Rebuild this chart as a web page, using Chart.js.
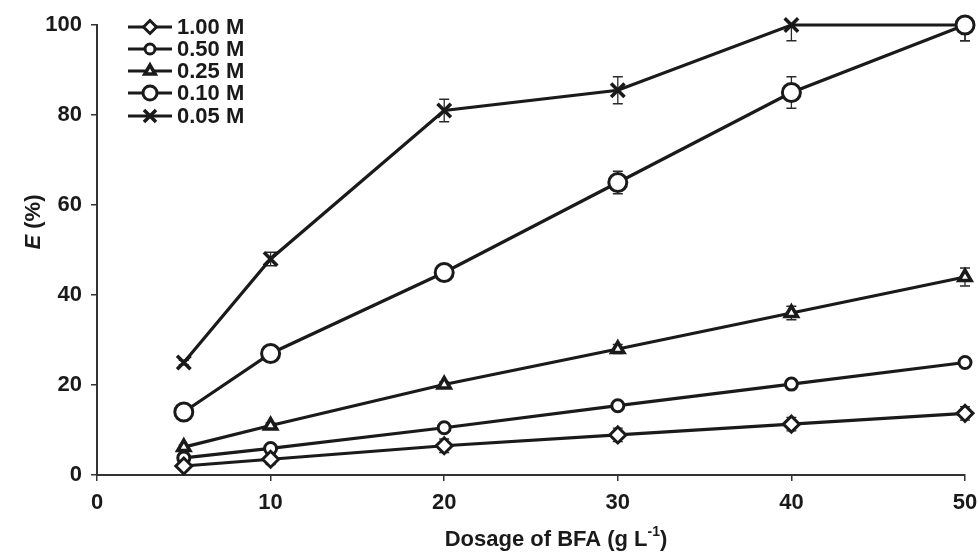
<!DOCTYPE html>
<html>
<head>
<meta charset="utf-8">
<script src="https://cdn.jsdelivr.net/npm/chart.js@4.4.1/dist/chart.umd.min.js"></script>
<style>
  html, body { margin: 0; padding: 0; background: #fff; }
  #wrap { width: 978px; height: 557px; position: relative; }
</style>
</head>
<body>
<div id="wrap"><canvas id="c" width="978" height="557"></canvas></div>
<script>
// Dosage of BFA (g/L)
const dosage = [5, 10, 20, 30, 40, 50];

// Extraction efficiency E (%) for each acid concentration
const labels = ['1.00 M', '0.50 M', '0.25 M', '0.10 M', '0.05 M'];
const e100 = [2.0, 3.5, 6.5, 8.9, 11.3, 13.7];
const e050 = [3.8, 5.9, 10.5, 15.4, 20.2, 25.0];
const e025 = [6.2, 11.0, 20.1, 28.0, 36.0, 44.0];
const e010 = [14.0, 27.0, 45.0, 65.0, 85.0, 100.0];
const e005 = [25.0, 48.0, 81.0, 85.5, 100.0, 100.0];

// Standard deviations (error bars)
const sd100 = [0.6, 1.2, 1.5, 1.5, 1.5, 1.5];
const sd050 = [0.5, 0.6, 0.6, 0.6, 0.6, 0.8];
const sd025 = [0.5, 0.6, 0.6, 1.0, 1.5, 2.0];
const sd010 = [0.8, 1.0, 1.0, 2.5, 3.5, 3.5];
const sd005 = [0.5, 1.5, 2.5, 3.0, 3.5, 3.5];

// Axis tick values
const xTicks = [0, 10, 20, 30, 40, 50];
const yTicks = [0, 20, 40, 60, 80, 100];

const INK = '#1a1a1a';
const FONT = '"Liberation Sans", Arial, sans-serif';
const FS = 22;

function pts(vals) { return dosage.map((x, i) => ({ x: x, y: vals[i] })); }

const seriesVals = [e100, e050, e025, e010, e005];
const seriesSd = [sd100, sd050, sd025, sd010, sd005];
const markerStyle = [
  { pointStyle: 'rectRot', radius: 8, border: 3, legendRadius: 6.5 },
  { pointStyle: 'circle', radius: 6, border: 3, legendRadius: 5 },
  { pointStyle: 'triangle', radius: 7, border: 3.5, legendRadius: 6 },
  { pointStyle: 'circle', radius: 9, border: 3, legendRadius: 7 },
  { pointStyle: 'crossRot', radius: 9.5, border: 3.5, legendRadius: 8.5 }
];

const datasets = labels.map((lab, i) => ({
  label: lab,
  data: pts(seriesVals[i]),
  sd: seriesSd[i],
  borderColor: INK,
  backgroundColor: '#ffffff',
  borderWidth: 3.2,
  pointStyle: markerStyle[i].pointStyle,
  pointRadius: markerStyle[i].radius,
  pointBorderWidth: markerStyle[i].border,
  pointBorderColor: INK,
  pointBackgroundColor: '#ffffff',
  legendRadius: markerStyle[i].legendRadius,
  legendBorder: markerStyle[i].border,
  clip: false,
  tension: 0,
  fill: false
}));

// Vertical error bars, drawn beneath the markers
const errorBars = {
  id: 'errorBars',
  beforeDatasetsDraw(chart) {
    const { ctx, chartArea, scales } = chart;
    ctx.save();
    ctx.beginPath();
    ctx.rect(chartArea.left, chartArea.top - 1, chartArea.right - chartArea.left + 10, chartArea.bottom - chartArea.top + 2);
    ctx.clip();
    ctx.strokeStyle = '#2a2a2a';
    ctx.lineWidth = 1.3;
    chart.data.datasets.forEach(ds => {
      ds.data.forEach((p, i) => {
        const x = scales.x.getPixelForValue(p.x);
        const yHi = scales.y.getPixelForValue(p.y + ds.sd[i]);
        const yLo = scales.y.getPixelForValue(p.y - ds.sd[i]);
        ctx.beginPath();
        ctx.moveTo(x, yHi); ctx.lineTo(x, yLo);
        ctx.moveTo(x - 5, yHi); ctx.lineTo(x + 5, yHi);
        ctx.moveTo(x - 5, yLo); ctx.lineTo(x + 5, yLo);
        ctx.stroke();
      });
    });
    ctx.restore();
  }
};

// Legend with line + marker samples in the upper-left corner
const lineLegend = {
  id: 'lineLegend',
  afterDraw(chart) {
    const { ctx } = chart;
    const x0 = 128, x1 = 172, tx = 177;
    const rows = [27, 49, 71, 93, 116];
    ctx.save();
    chart.data.datasets.forEach((ds, i) => {
      const y = rows[i];
      ctx.strokeStyle = INK;
      ctx.lineWidth = 3.2;
      ctx.beginPath();
      ctx.moveTo(x0, y); ctx.lineTo(x1, y);
      ctx.stroke();
      ctx.fillStyle = '#ffffff';
      ctx.strokeStyle = INK;
      ctx.lineWidth = ds.legendBorder;
      Chart.helpers.drawPoint(ctx, {
        pointStyle: ds.pointStyle,
        radius: ds.legendRadius,
        borderWidth: ds.legendBorder,
        rotation: 0
      }, (x0 + x1) / 2, y);
      ctx.fillStyle = INK;
      ctx.font = 'bold ' + FS + 'px ' + FONT;
      ctx.textAlign = 'left';
      ctx.textBaseline = 'middle';
      ctx.fillText(ds.label, tx, y + 1);
    });
    ctx.restore();
  }
};

// Axis titles: italic symbol on the y axis, superscript unit on the x axis
const axisTitles = {
  id: 'axisTitles',
  afterDraw(chart) {
    const { ctx } = chart;
    ctx.save();
    ctx.fillStyle = INK;
    ctx.textBaseline = 'middle';

    // x title
    const main = 'Dosage of BFA (g L';
    const sup = '-1';
    const tail = ')';
    ctx.font = 'bold ' + FS + 'px ' + FONT;
    const wMain = ctx.measureText(main).width;
    const wTail = ctx.measureText(tail).width;
    ctx.font = 'bold 14px ' + FONT;
    const wSup = ctx.measureText(sup).width;
    const total = wMain + wSup + wTail;
    let x = 556 - total / 2;
    const y = 540;
    ctx.textAlign = 'left';
    ctx.font = 'bold ' + FS + 'px ' + FONT;
    ctx.fillText(main, x, y);
    x += wMain;
    ctx.font = 'bold 14px ' + FONT;
    ctx.fillText(sup, x, y - 8);
    x += wSup;
    ctx.font = 'bold ' + FS + 'px ' + FONT;
    ctx.fillText(tail, x, y);

    // y title
    ctx.translate(34, 222);
    ctx.rotate(-Math.PI / 2);
    ctx.font = 'italic bold ' + FS + 'px ' + FONT;
    const wE = ctx.measureText('E').width;
    ctx.font = 'bold ' + FS + 'px ' + FONT;
    const wRest = ctx.measureText(' (%)').width;
    const yx = -(wE + wRest) / 2;
    ctx.font = 'italic bold ' + FS + 'px ' + FONT;
    ctx.fillText('E', yx, 0);
    ctx.font = 'bold ' + FS + 'px ' + FONT;
    ctx.fillText(' (%)', yx + wE, 0);
    ctx.restore();
  }
};

new Chart(document.getElementById('c'), {
  type: 'line',
  data: { datasets: datasets },
  options: {
    responsive: false,
    animation: false,
    layout: { padding: { top: 25, right: 0, left: 0, bottom: 0 } },
    plugins: {
      legend: { display: false },
      tooltip: { enabled: false }
    },
    scales: {
      x: {
        type: 'linear',
        min: 0, max: 50,
        afterBuildTicks(scale) { scale.ticks = xTicks.map(v => ({ value: v })); },
        afterFit(scale) { scale.height = 82; scale.paddingRight = 13; scale.paddingLeft = 0; },
        border: { display: true, color: '#333', width: 2 },
        grid: { display: true, drawOnChartArea: false, drawTicks: true, tickLength: 6, color: '#333', lineWidth: 1.5 },
        ticks: { color: INK, font: { family: FONT, size: FS, weight: 'bold' }, padding: 9, maxRotation: 0 }
      },
      y: {
        type: 'linear',
        min: 0, max: 100,
        afterBuildTicks(scale) { scale.ticks = yTicks.map(v => ({ value: v })); },
        afterFit(scale) { scale.width = 97; },
        border: { display: true, color: '#333', width: 2 },
        grid: { display: true, drawOnChartArea: false, drawTicks: true, tickLength: 6, color: '#333', lineWidth: 1.5 },
        ticks: { color: INK, font: { family: FONT, size: FS, weight: 'bold' }, padding: 9 }
      }
    }
  },
  plugins: [errorBars, lineLegend, axisTitles]
});
</script>
</body>
</html>
